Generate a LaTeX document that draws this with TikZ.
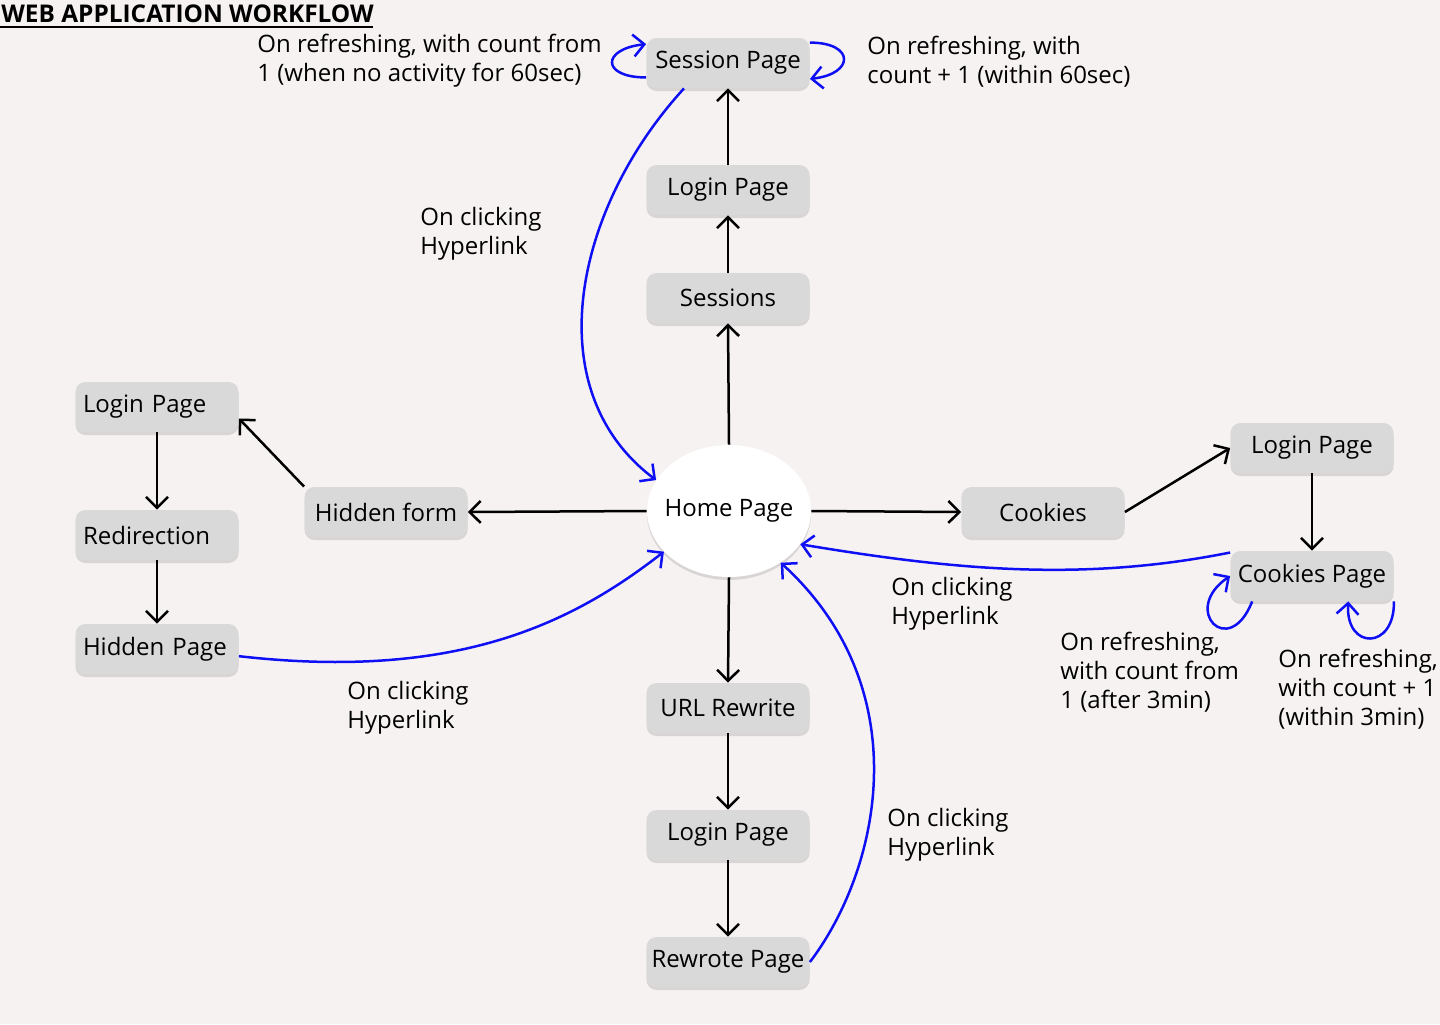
\documentclass[tikz,border=0pt]{standalone}
\usepackage{fontspec}
\setmainfont{Open Sans}
\usetikzlibrary{arrows.meta,shapes.geometric,shadows}
\definecolor{bgpink}{RGB}{247,242,242}
\definecolor{boxgray}{RGB}{217,217,217}
\definecolor{linkblue}{RGB}{15,15,245}

\begin{document}
\begin{tikzpicture}[x=0.5pt,y=-0.5pt,
  page/.style={fill=boxgray, rounded corners=5pt, minimum width=81.5pt, minimum height=25pt, inner sep=0pt,
    font=\fontsize{12}{14.5}\selectfont, drop shadow={shadow xshift=0pt, shadow yshift=-1.5pt, opacity=0.25}},
  leftpage/.style={page, text width=74pt, align=left},
  homepage/.style={ellipse, fill=white, minimum width=82pt, minimum height=66pt, inner xsep=-4pt, inner ysep=0pt,
    font=\fontsize{12}{14.5}\selectfont, drop shadow={shadow xshift=0pt, shadow yshift=-1.5pt, opacity=0.25}},
  note/.style={anchor=west, inner sep=0pt, align=left, font=\fontsize{12}{14.5}\selectfont},
  flow/.style={line width=1.25pt, -{Straight Barb[length=5.5pt,width=11pt]}},
  link/.style={flow, draw=linkblue}]

\useasboundingbox (0,0) rectangle (1440,1024);
\fill[bgpink] (0,0) rectangle (1440,1024);

\node[anchor=west, inner sep=0pt, font=\bfseries\fontsize{12.2}{14}\selectfont] (title) at (1,14) {WEB APPLICATION WORKFLOW};
\draw[line width=0.9pt] (0,27) -- (373,27);

\node[page] (sesspage) at (728,63) {Session Page};
\node[page] (login1) at (728,190) {Login Page};
\node[page] (sessions) at (728,298) {Sessions};
\node[homepage] (home) at (729,511) {Home Page};

\node[page] (hform) at (386,512) {Hidden form};
\node[leftpage] (login2) at (157,407) {Login Page};
\node[leftpage] (redir) at (157,535) {Redirection};
\node[leftpage] (hidpage) at (157,649) {Hidden Page};

\node[page] (cookies) at (1043,512) {Cookies};
\node[page] (login3) at (1312,448) {Login Page};
\node[page] (ckpage) at (1312,576) {Cookies Page};

\node[page] (urlrw) at (728,708) {URL Rewrite};
\node[page] (login4) at (728,835) {Login Page};
\node[page] (rwpage) at (728,962) {Rewrote Page};

\draw[flow] (home.north) -- (sessions.south);
\draw[flow] (sessions.north) -- (login1.south);
\draw[flow] (login1.north) -- (sesspage.south);
\draw[flow] (home.west) -- (hform.east);
\draw[flow] (hform.north west) -- (login2.352);
\draw[flow] (login2.south) -- (redir.north);
\draw[flow] (redir.south) -- (hidpage.north);
\draw[flow] (home.east) -- (cookies.west);
\draw[flow] (cookies.east) -- (login3.west);
\draw[flow] (login3.south) -- (ckpage.north);
\draw[flow] (home.south) -- (urlrw.north);
\draw[flow] (urlrw.south) -- (login4.north);
\draw[flow] (login4.south) -- (rwpage.north);

\draw[link] (sesspage.210) .. controls +(-110,120) and +(-120,-90) .. (home.157);
\draw[link] (hidpage.355) .. controls +(220,25) and +(-90,70) .. (home.212);
\draw[link] (ckpage.164) .. controls +(-150,30) and +(150,25) .. (home.335);
\draw[link] (rwpage.east) .. controls +(70,-92) and +(139,127) .. (home.315);
\draw[link] (sesspage.190) .. controls +(-45,0) and +(-45,5) .. (sesspage.167);
\draw[link] (sesspage.14) .. controls +(45,0) and +(45,-5) .. (sesspage.349);
\draw[link] (ckpage.203) .. controls +(-23,59) and +(-50,34) .. (ckpage.west);
\draw[link] (ckpage.south east) .. controls +(1,49) and +(-3,49) .. (ckpage.325);

\node[note] (lblsessold) at (257,61) {On refreshing, with count from\\1 (when no activity for 60sec)};
\node[note] (lblsessnew) at (867,62) {On refreshing, with\\count + 1 (within 60sec)};
\node[note] (lbltop) at (420,234) {On clicking\\Hyperlink};
\node[note] (lblleft) at (347,708) {On clicking\\Hyperlink};
\node[note] (lblright) at (891,604) {On clicking\\Hyperlink};
\node[note] (lblbottom) at (887,835) {On clicking\\Hyperlink};
\node[note] (lblckold) at (1060,672) {On refreshing,\\with count from\\1 (after 3min)};
\node[note] (lblcknew) at (1278,689) {On refreshing,\\with count + 1\\(within 3min)};

\end{tikzpicture}
\end{document}
